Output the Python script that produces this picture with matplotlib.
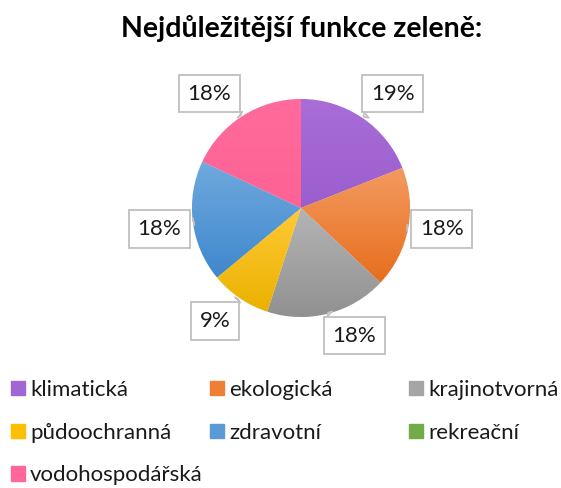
import numpy as np
import matplotlib
matplotlib.use('Agg')
import matplotlib.pyplot as plt
from matplotlib.colors import LinearSegmentedColormap

plt.rcParams['font.family'] = ['Lato', 'DejaVu Sans']

# Data (share in %)
categories = ['klimatická', 'ekologická', 'krajinotvorná', 'půdoochranná',
              'zdravotní', 'rekreační', 'vodohospodářská']
values = [19, 18, 18, 9, 18, 0, 18]

# (top, bottom) gradient colours for each slice
top_colors = ['#a96dd8', '#f39a60', '#b4b4b4', '#ffca35', '#70a9de', '#78b54e', '#ff6b9c']
bottom_colors = ['#9b5ecd', '#e76e1c', '#919191', '#ebb100', '#3f88cd', '#62a33a', '#fd6294']
legend_colors = ['#a066d3', '#ee7f34', '#a5a5a5', '#fcc000', '#5b9bd5', '#70ad47', '#ff6699']

# label box centres, in units of the pie radius (layout only)
label_pos = [(0.84, 1.05), (1.29, -0.19), (0.49, -1.17), (-0.79, -1.04),
             (-1.30, -0.19), None, (-0.84, 1.05)]

W, H = 561, 488
fig = plt.figure(figsize=(W / 100, H / 100), dpi=100)

cx, cy, R = 301, 208, 109  # pie centre and radius in pixels
half = 160
lim = half / R
ax = fig.add_axes([(cx - half) / W, (H - cy - half) / H, 2 * half / W, 2 * half / H])

wedges, _ = ax.pie(values, startangle=90, counterclock=False, colors=legend_colors,
                   wedgeprops=dict(edgecolor='white', linewidth=0.6))

# vertical gradient inside every slice
grad = np.linspace(0, 1, 256).reshape(-1, 1)
for w, c0, c1, v in zip(wedges, top_colors, bottom_colors, values):
    if v == 0:
        continue
    ext = w.get_path().get_extents()
    cmap = LinearSegmentedColormap.from_list('g', [c0, c1])
    im = ax.imshow(grad, cmap=cmap, aspect='auto', origin='upper',
                   extent=[ext.x0, ext.x1, ext.y0, ext.y1], zorder=w.get_zorder() + 0.1)
    im.set_clip_path(w)

# callout labels
total = sum(values)
for w, v, pos in zip(wedges, values, label_pos):
    if v == 0 or pos is None:
        continue
    ang = np.deg2rad((w.theta1 + w.theta2) / 2)
    tip = (0.99 * np.cos(ang), 0.99 * np.sin(ang))
    ax.annotate(f'{v / total * 100:.0f}%', xy=tip, xytext=pos,
                ha='center', va='center', fontsize=16, color='#1a1a1a', zorder=5,
                bbox=dict(boxstyle='square,pad=0.4', fc='white', ec='#bfbfbf', lw=1.3),
                arrowprops=dict(arrowstyle='wedge,tail_width=0.35,shrink_factor=0.5',
                                fc='#e0e0e0', ec='#bfbfbf', lw=1.0))

ax.set_xlim(-lim, lim)
ax.set_ylim(-lim, lim)
ax.set_aspect('equal')
ax.axis('off')

fig.text(302 / W, 1 - 29 / H, 'Nejdůležitější funkce zeleně:', ha='center', va='center',
         fontsize=20.5, fontweight='bold', color='black')

# legend laid out row by row in three columns
col_x = [11, 210, 409]
ncol = 3
for c in range(ncol):
    idx = list(range(c, len(categories), ncol))
    handles = [plt.Rectangle((0, 0), 1, 1, color=legend_colors[i]) for i in idx]
    leg = fig.legend(handles, [categories[i] for i in idx], loc='upper left',
                     bbox_to_anchor=(col_x[c] / W, 1 - 380 / H), frameon=False,
                     fontsize=16, handlelength=0.63, handleheight=0.63,
                     handletextpad=0.22, labelspacing=1.02, borderpad=0, borderaxespad=0)
    for t in leg.get_texts():
        t.set_color('#1a1a1a')

fig.savefig('out.png', dpi=100)
